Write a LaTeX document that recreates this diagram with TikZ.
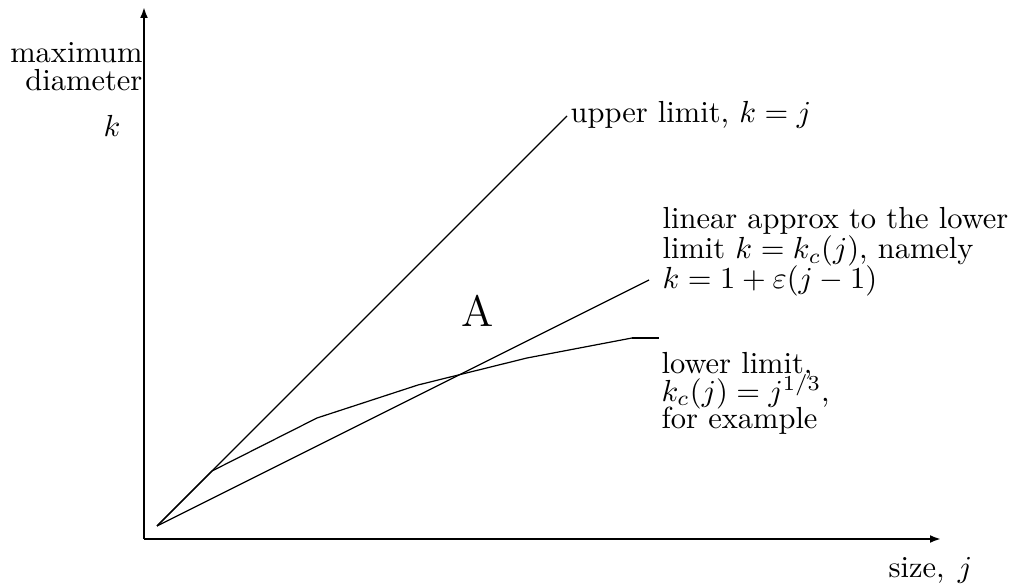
\documentclass[tikz,border=0pt]{standalone}
\usepackage{amsmath,amssymb}
\usepackage{tikz}
\usetikzlibrary{arrows.meta,calc}
\newcommand{\tightlines}{\lineskiplimit=-20pt\relax\lineskip=0pt\relax}

\begin{document}
\begin{tikzpicture}[x=0.328pt, y=-0.328pt,
    axis/.style={line width=0.8pt, -{Latex[length=3.6pt, width=2.6pt]}},
    curve/.style={line width=0.4pt},
    tick/.style={line width=0.8pt},
    lbl/.style={inner sep=0pt, font={\fontsize{10}{9.8}\selectfont\tightlines}}]
  \useasboundingbox (0,0) rectangle (1018,585);
  % axes
  \coordinate (O) at (144,539);
  \coordinate (ytop) at (144,7);
  \coordinate (xend) at (941,539);
  \draw[axis] (O) -- (ytop);
  \draw[axis] (O) -- (xend);
  % axis labels
  \node[lbl, anchor=base east] (ymax) at (143,63) {maximum};
  \node[lbl, anchor=base east] (ydiam) at (143,91) {diameter};
  \node[lbl, anchor=base east] (yk) at (121,137) {$k$};
  \node[lbl, anchor=base west] (xsize) at (888,578) {size, \kern1pt$j$};
  % the three limits, all from the same start
  \coordinate (S) at (157,526);
  \coordinate (U) at (567,116);
  \coordinate (L) at (649,280);
  \coordinate (C) at (632,338);
  \draw[curve] (S) -- (U);
  \draw[curve] (S) -- (212,471) -- (317,418) -- (418,385) -- (527,358) -- (C);
  \draw[curve] (S) -- (L);
  \draw[tick] (C) -- ++(27,0);
  % labels
  \node[lbl, anchor=base west] (upper) at (570,123) {upper limit, $k=j$};
  \node[lbl, anchor=north west, align=left] (linear) at (662,207)
    {linear approx to the lower\\limit $k=k_c(j)$, namely\\$k=1+\varepsilon(j-1)$};
  \node[lbl, anchor=north west, align=left,
    font={\fontsize{10}{9}\selectfont\tightlines}] (lower) at (661,352)
    {lower limit,\\$k_c(j)=j^{1/3}$,\\for example};
  \node[inner sep=0pt, anchor=base, font=\Large] (A) at (478,327) {A};
\end{tikzpicture}
\end{document}
